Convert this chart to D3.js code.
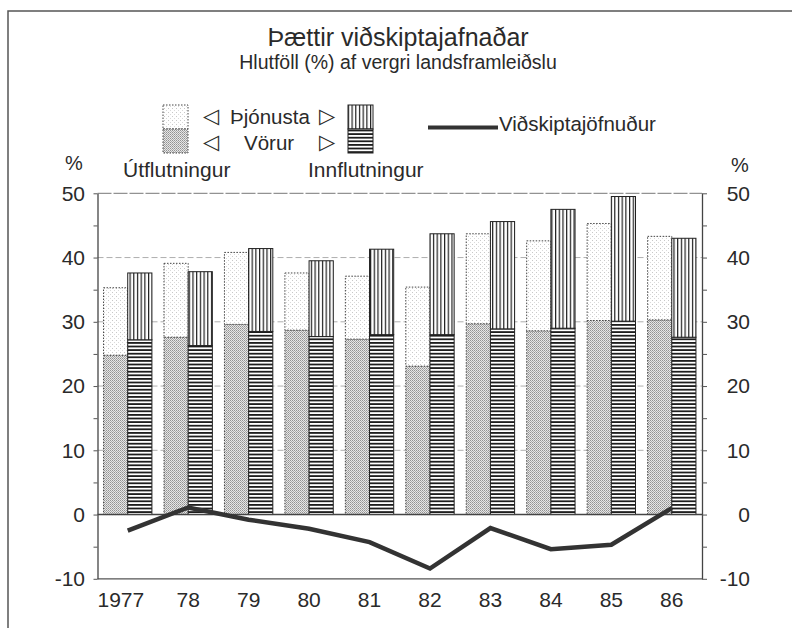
<!DOCTYPE html>
<html>
<head>
<meta charset="utf-8">
<script src="https://cdn.jsdelivr.net/npm/d3@7"></script>
<style>
body{margin:0;background:#fff;}
svg{display:block;font-family:"Liberation Sans",Arial,sans-serif;}
</style>
</head>
<body>
<svg id="chart" width="792" height="628"></svg>
<script>
// values, % of GDP
var years=["1977","78","79","80","81","82","83","84","85","86"];
var exportGoods=[24.8,27.6,29.6,28.7,27.3,23.1,29.7,28.6,30.2,30.3];
var exportServices=[10.5,11.5,11.2,8.9,9.8,12.3,14.0,14.0,15.1,13.0];
var importGoods=[27.2,26.3,28.5,27.7,28.0,28.0,28.9,29.0,30.1,27.6];
var importServices=[10.4,11.5,12.9,11.8,13.3,15.7,16.7,18.5,19.4,15.4];
var balance=[-2.5,1.1,-0.8,-2.2,-4.3,-8.4,-2.1,-5.4,-4.7,1.0];
var yTicks=[-10,-5,0,5,10,15,20,25,30,35,40,45,50];
var gridValues=[10,20,30,40];

function chart(){
    var svg=d3.select("#chart");
    var left=97.5,right=702,top=193.3,bottom=578.8;

    var x=d3.scaleBand().domain(years).range([left,right]).paddingInner(0.2).paddingOuter(0.1);
    var x1=d3.scaleBand().domain(["exp","imp"]).range([0,x.bandwidth()]);
    var y=d3.scaleLinear().domain([-10,50]).range([bottom,top]);

    // fill patterns
    var defs=svg.append("defs");
    var p=defs.append("pattern").attr("id","dotsLight").attr("patternUnits","userSpaceOnUse")
        .attr("width",4).attr("height",4);
    p.append("rect").attr("width",4).attr("height",4).attr("fill","#fff");
    p.append("rect").attr("width",1).attr("height",1).attr("fill","#c8c8c8");
    p.append("rect").attr("x",2).attr("y",2).attr("width",1).attr("height",1).attr("fill","#dadada");

    p=defs.append("pattern").attr("id","stipple").attr("patternUnits","userSpaceOnUse")
        .attr("width",2).attr("height",2);
    p.append("rect").attr("width",2).attr("height",2).attr("fill","#e6e6e6");
    p.append("rect").attr("width",1).attr("height",1).attr("fill","#929292");
    p.append("rect").attr("x",1).attr("y",1).attr("width",1).attr("height",1).attr("fill","#ababab");

    p=defs.append("pattern").attr("id","vlines").attr("patternUnits","userSpaceOnUse")
        .attr("width",3.7).attr("height",10);
    p.append("rect").attr("width",3.7).attr("height",10).attr("fill","#fff");
    p.append("rect").attr("width",1.2).attr("height",10).attr("fill","#1e1e1e");

    p=defs.append("pattern").attr("id","hlines").attr("patternUnits","userSpaceOnUse")
        .attr("width",10).attr("height",3.6);
    p.append("rect").attr("width",10).attr("height",3.6).attr("fill","#fff");
    p.append("rect").attr("width",10).attr("height",1.8).attr("fill","#1e1e1e");

    // frame
    svg.append("path").attr("d","M8,628V11H792").attr("fill","none")
        .attr("stroke","#555").attr("stroke-width",1.5);

    // titles
    svg.append("text").attr("x",398).attr("y",46).attr("text-anchor","middle")
        .attr("font-size","25px").attr("fill","#2a2a2a").text("Þættir viðskiptajafnaðar");
    svg.append("text").attr("x",398).attr("y",69).attr("text-anchor","middle")
        .attr("font-size","19.5px").attr("fill","#2a2a2a").text("Hlutföll (%) af vergri landsframleiðslu");

    // gridlines
    svg.selectAll(".grid").data(gridValues).enter().append("line")
        .attr("class","grid")
        .attr("x1",left).attr("x2",right)
        .attr("y1",function(d){return y(d);}).attr("y2",function(d){return y(d);})
        .attr("stroke","#a5a5a5").attr("stroke-width",0.9).attr("stroke-dasharray","6,3");
    svg.append("line").attr("x1",left).attr("x2",right).attr("y1",y(50)).attr("y2",y(50))
        .attr("stroke","#777").attr("stroke-width",1).attr("stroke-dasharray","14,2");
    svg.append("line").attr("x1",left).attr("x2",right).attr("y1",y(-10)).attr("y2",y(-10))
        .attr("stroke","#555").attr("stroke-width",1.3);

    // stacked bars
    var stack=d3.stack().keys(["goods","services"]);
    var expRows=years.map(function(yr,i){return {year:yr,goods:exportGoods[i],services:exportServices[i]};});
    var impRows=years.map(function(yr,i){return {year:yr,goods:importGoods[i],services:importServices[i]};});
    var sides=[
        {key:"exp",layers:stack(expRows),fills:["url(#stipple)","url(#dotsLight)"],stroke:"#444",dash:"1.5,1.5"},
        {key:"imp",layers:stack(impRows),fills:["url(#hlines)","url(#vlines)"],stroke:"#222",dash:null}
    ];
    sides.forEach(function(s){
        s.layers.forEach(function(layer,li){
            svg.append("g").selectAll("rect")
                .data(layer)
                .enter().append("rect")
                .attr("x",function(d){return x(d.data.year)+x1(s.key);})
                .attr("y",function(d){return y(d[1]);})
                .attr("width",x1.bandwidth())
                .attr("height",function(d){return y(d[0])-y(d[1]);})
                .attr("fill",s.fills[li])
                .attr("stroke",s.stroke)
                .attr("stroke-width",1)
                .attr("stroke-dasharray",s.dash);
        });
    });

    // zero line
    svg.append("line").attr("x1",left).attr("x2",right).attr("y1",y(0)).attr("y2",y(0))
        .attr("stroke","#444").attr("stroke-width",1.5);

    // balance line
    var line=d3.line()
        .x(function(d,i){return x(years[i])+x.bandwidth()/2;})
        .y(function(d){return y(d);});
    svg.append("path").datum(balance)
        .attr("d",line)
        .attr("fill","none")
        .attr("stroke","#333")
        .attr("stroke-width",4.5)
        .attr("stroke-linejoin","miter");

    // axes
    var fmt=function(d){return d%10===0?String(d):"";};
    var gl=svg.append("g").attr("transform","translate("+left+",0)")
        .call(d3.axisLeft(y).tickValues(yTicks).tickSize(4).tickSizeOuter(0).tickPadding(8.5).tickFormat(fmt));
    var gr=svg.append("g").attr("transform","translate("+right+",0)")
        .call(d3.axisRight(y).tickValues(yTicks).tickSize(5).tickSizeOuter(0).tickPadding(8).tickFormat(fmt));
    gr.selectAll("text").attr("x",48).attr("text-anchor","end");
    var gb=svg.append("g").attr("transform","translate(0,"+bottom+")")
        .call(d3.axisBottom(x).tickSize(0).tickPadding(13));
    gb.select(".domain").remove();
    [gl,gr,gb].forEach(function(g){
        g.selectAll(".domain").attr("stroke","#444").attr("stroke-width",1.3);
        g.selectAll(".tick line").attr("stroke","#555");
        g.selectAll("text").attr("font-size","21px").attr("fill","#2a2a2a")
            .attr("font-family","Liberation Sans, Arial, sans-serif");
    });
    // first year label starts at the axis in the original
    gb.selectAll("text").filter(function(d,i){return i===0;})
        .attr("text-anchor","start")
        .attr("x",left-(x(years[0])+x.bandwidth()/2));

    // % labels
    svg.append("text").attr("x",74).attr("y",170).attr("text-anchor","middle")
        .attr("font-size","20px").attr("fill","#2a2a2a").text("%");
    svg.append("text").attr("x",740).attr("y",172).attr("text-anchor","middle")
        .attr("font-size","20px").attr("fill","#2a2a2a").text("%");

    // legend
    var lg=svg.append("g");
    [{x:163,fills:["url(#dotsLight)","url(#stipple)"],stroke:"#444",dash:"1.5,1.5"},
     {x:348,fills:["url(#vlines)","url(#hlines)"],stroke:"#222",dash:null}].forEach(function(s){
        lg.append("rect").attr("x",s.x).attr("y",105).attr("width",25).attr("height",24)
            .attr("fill",s.fills[0]).attr("stroke",s.stroke).attr("stroke-dasharray",s.dash);
        lg.append("rect").attr("x",s.x).attr("y",129).attr("width",25).attr("height",24)
            .attr("fill",s.fills[1]).attr("stroke",s.stroke).attr("stroke-dasharray",s.dash);
    });
    var tri=[{x:211,y:123,t:"◁"},{x:327,y:123,t:"▷"},{x:211,y:149,t:"◁"},{x:327,y:149,t:"▷"}];
    lg.selectAll(".tri").data(tri).enter().append("text")
        .attr("class","tri")
        .attr("x",function(d){return d.x;}).attr("y",function(d){return d.y;})
        .attr("text-anchor","middle").attr("font-family","DejaVu Sans")
        .attr("font-size","21px").attr("fill","#2a2a2a")
        .text(function(d){return d.t;});
    lg.append("text").attr("x",230).attr("y",124).attr("font-size","20.5px").attr("fill","#2a2a2a").text("Þjónusta");
    lg.append("text").attr("x",244).attr("y",150).attr("font-size","20.5px").attr("fill","#2a2a2a").text("Vörur");
    lg.append("text").attr("x",123).attr("y",177).attr("font-size","21px").attr("fill","#2a2a2a").text("Útflutningur");
    lg.append("text").attr("x",308).attr("y",177).attr("font-size","21px").attr("fill","#2a2a2a").text("Innflutningur");
    lg.append("line").attr("x1",428).attr("x2",498).attr("y1",127.5).attr("y2",127.5)
        .attr("stroke","#333").attr("stroke-width",4);
    lg.append("text").attr("x",499).attr("y",131).attr("font-size","20.5px").attr("fill","#2a2a2a").text("Viðskiptajöfnuður");
}
chart();
</script>
</body>
</html>
